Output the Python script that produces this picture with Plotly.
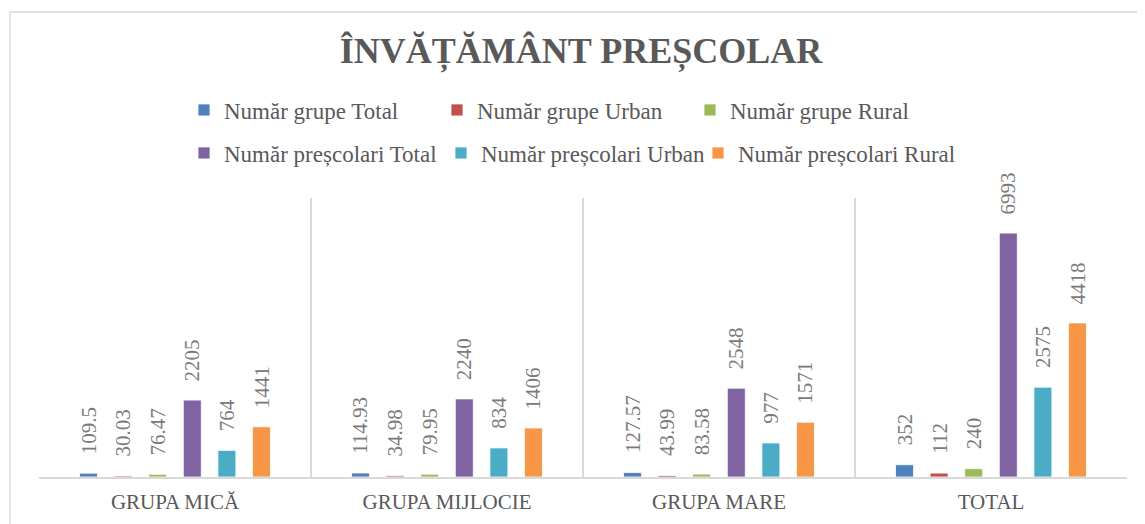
import plotly.graph_objects as go

categories = ["GRUPA MICĂ", "GRUPA MIJLOCIE", "GRUPA MARE", "TOTAL"]
series_names = [
    "Număr grupe Total", "Număr grupe Urban", "Număr grupe Rural",
    "Număr preșcolari Total", "Număr preșcolari Urban", "Număr preșcolari Rural",
]
grupe_total = [109.5, 114.93, 127.57, 352]
grupe_urban = [30.03, 34.98, 43.99, 112]
grupe_rural = [76.47, 79.95, 83.58, 240]
prescolari_total = [2205, 2240, 2548, 6993]
prescolari_urban = [764, 834, 977, 2575]
prescolari_rural = [1441, 1406, 1571, 4418]
series_values = [grupe_total, grupe_urban, grupe_rural,
                 prescolari_total, prescolari_urban, prescolari_rural]
colors = ["#4F81BD", "#C0504D", "#9BBB59", "#8064A2", "#4BACC6", "#F79646"]

W, H = 1145, 524
OFF = 8  # page body margin offset
# plot area in page pixels: x 39..1127, y 198..477
ml = 39 - OFF
mt = 198 - OFF
mr = W - (1127 - OFF)
mb = H - (477 - OFF)
pw, ph = W - ml - mr, H - mt - mb
bargap = 0.237
bargroupgap = 0.48
serif = "Liberation Serif"
txt_col = "#595959"
lbl_col = "#7a7a7a"
grid_col = "#d9d9d9"

fig = go.Figure()
for i, (name, vals, col) in enumerate(zip(series_names, series_values, colors)):
    fig.add_trace(go.Bar(
        name=name, x=categories, y=vals,
        marker=dict(color=col, line=dict(color="white", width=0.8)),
        legend="legend" if i < 3 else "legend2",
        hoverinfo="x+y+name",
    ))

# data labels as rotated annotations placed above each bar
n = len(series_values)
gw = 1 - bargap
slot = gw / n
annotations = []
for i, vals in enumerate(series_values):
    for j, v in enumerate(vals):
        annotations.append(dict(
            x=j - gw / 2 + slot * (i + 0.5), y=v, xref="x", yref="y",
            text=f"{v:g}", textangle=-90, showarrow=False,
            xanchor="center", yanchor="bottom", yshift=17,
            font=dict(family=serif, size=21, color=lbl_col),
        ))

def px_x(p):  # page px -> paper
    return (p - OFF - ml) / pw

def px_y(p):
    return (H - mb - (p - OFF)) / ph

legend_common = dict(
    orientation="h", xanchor="left", yanchor="middle",
    font=dict(family=serif, size=23, color=txt_col),
    bgcolor="rgba(0,0,0,0)", entrywidthmode="pixels",
    itemclick=False, itemdoubleclick=False,
)

fig.update_layout(
    width=W, height=H,
    margin=dict(l=ml, r=mr, t=mt, b=mb, autoexpand=False),
    paper_bgcolor="white", plot_bgcolor="white",
    barmode="group", bargap=bargap, bargroupgap=bargroupgap,
    title=dict(
        text="ÎNVĂȚĂMÂNT PREȘCOLAR",
        x=(581 - OFF) / W, xanchor="center", y=1 - (50 - OFF) / H, yanchor="middle",
        xref="container", yref="container",
        font=dict(family=serif, size=36, color=txt_col, weight="bold"),
    ),
    legend=dict(legend_common, x=px_x(184), y=px_y(110), entrywidth=208),
    legend2=dict(legend_common, x=px_x(184), y=px_y(153), entrywidth=212),
    xaxis=dict(
        type="category", tickson="boundaries", showgrid=True,
        gridcolor=grid_col, gridwidth=1.5, showline=True,
        linecolor=grid_col, linewidth=1.5, ticks="",
        tickfont=dict(family=serif, size=21, color=txt_col),
        ticklabelstandoff=5,
    ),
    yaxis=dict(range=[0, 8000], showgrid=False, showticklabels=False,
               zeroline=False, showline=False, fixedrange=True),
    annotations=annotations,
    shapes=[dict(
        type="rect", xref="paper", yref="paper",
        x0=px_x(10), x1=px_x(W + 20), y0=px_y(H + 20), y1=px_y(12),
        line=dict(color=grid_col, width=1.3), fillcolor="rgba(0,0,0,0)",
        layer="below",
    )],
    showlegend=True,
)

fig.write_html("out.html")
